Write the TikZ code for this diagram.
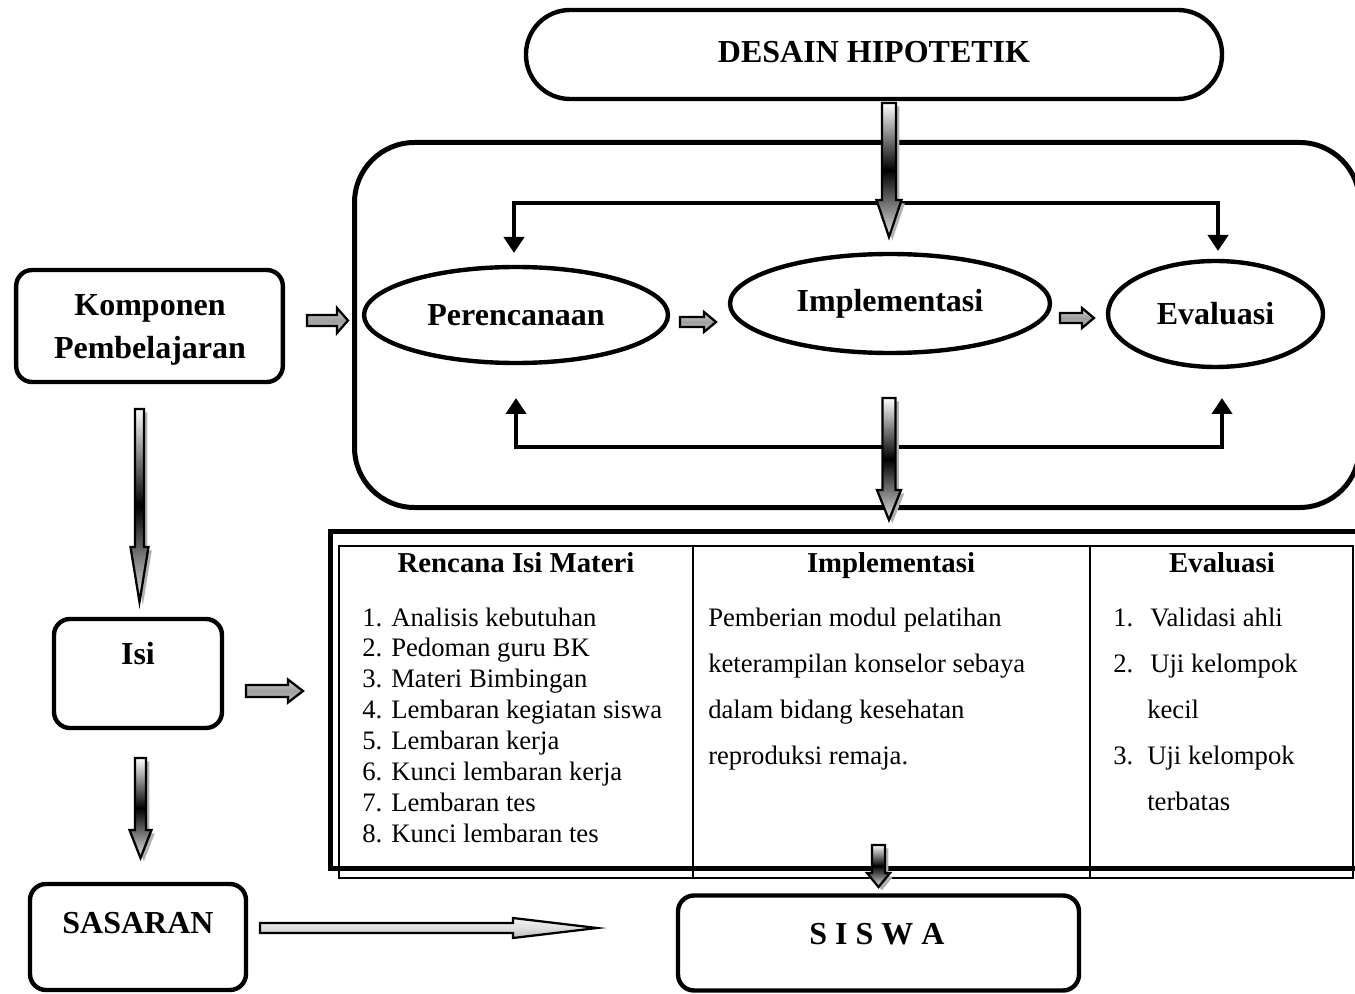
\documentclass[tikz,border=0pt]{standalone}
\usepackage{fontspec}
\setmainfont{Liberation Serif}
\usetikzlibrary{arrows.meta,shapes.geometric,calc}
\newcommand\blkV[7]{%
  \fill[gray!60,xshift=2.5pt,yshift=-2.5pt] (#2-#5,#3) -- (#2+#5,#3) -- (#2+#5,#4-#7) -- (#2+#6,#4-#7) -- (#2,#4) -- (#2-#6,#4-#7) -- (#2-#5,#4-#7) -- cycle;
  \draw[blk,#1] (#2-#5,#3) -- (#2+#5,#3) -- (#2+#5,#4-#7) -- (#2+#6,#4-#7) -- (#2,#4) -- (#2-#6,#4-#7) -- (#2-#5,#4-#7) -- cycle;}
\newcommand\blkH[7]{%
  \draw[blk,#1] (#3,#2-#5) -- (#4-#7,#2-#5) -- (#4-#7,#2-#6) -- (#4,#2) -- (#4-#7,#2+#6) -- (#4-#7,#2+#5) -- (#3,#2+#5) -- cycle;}
\begin{document}
\begin{tikzpicture}[x=0.75pt,y=-0.75pt,
  bigtxt/.style={font=\fontsize{24pt}{33pt}\selectfont\bfseries},
  hdr/.style={font=\fontsize{21.6pt}{26pt}\selectfont\bfseries},
  body/.style={font=\fontsize{20pt}{23pt}\selectfont},
  rbox/.style={draw, line width=3.3pt, rounded corners=12pt, inner sep=0pt},
  oval/.style={ellipse, draw, line width=3.3pt, inner sep=0pt, bigtxt},
  flow/.style={line width=3.7pt, line join=miter, {Triangle[length=12pt,width=15pt]}-{Triangle[length=12pt,width=15pt]}},
  blk/.style={draw, line width=1.7pt, line join=miter},
  vshade/.style={top color=white, bottom color=gray!20, middle color=black},
  hshade/.style={top color=gray!35, bottom color=gray!50, middle color=gray!75},
  lshade/.style={top color=gray!10, bottom color=gray!55, middle color=gray!25}]
\useasboundingbox (0,0) rectangle (1355,994);
\clip (0,0) rectangle (1355,994);

% containers and boxes
\node[draw, line width=3.75pt, rounded corners=45pt, minimum width=753.75pt, minimum height=273.75pt] (cyc) at (857,325) {};
\node[draw, line width=3.3pt, rounded corners=33pt, minimum width=522pt, minimum height=66.75pt, bigtxt] (desain) at (874,54.5) {};
\node[bigtxt, anchor=base] at (874,63) {DESAIN HIPOTETIK};

\node[rbox, minimum width=200pt, minimum height=84pt] (komp) at (149.5,326) {};
\node[bigtxt, anchor=base] at (150,316) {Komponen};
\node[bigtxt, anchor=base] at (150,359) {Pembelajaran};

\node[rbox, minimum width=126pt, minimum height=81.75pt] (isi) at (138,673.5) {};
\node[bigtxt, anchor=base] at (138,664) {Isi};

\node[rbox, minimum width=162pt, minimum height=79.5pt] (sas) at (138,937) {};
\node[bigtxt, anchor=base] at (138,933) {SASARAN};

\node[rbox, minimum width=300.75pt, minimum height=71.25pt] (siswa) at (878.5,943) {};
\node[bigtxt, anchor=base] at (877,944) {S I S W A};

% ellipses
\node[oval, minimum width=228pt, minimum height=72pt] (per) at (516,315) {Perencanaan};
\node[oval, minimum width=240pt, minimum height=74.25pt] (imp) at (890,303.5) {Implementasi};
\node[oval, minimum width=161.25pt, minimum height=79.5pt] (eva) at (1215.5,314) {Evaluasi};

% inner black connectors
\coordinate (tl) at (514,253); \coordinate (tlc) at (514,203);
\coordinate (trc) at (1218,203); \coordinate (tr) at (1218,251);
\draw[flow] (tl) -- (tlc) -- (trc) -- (tr);
\coordinate (bl) at (516,398); \coordinate (blc) at (516,447);
\coordinate (brc) at (1222,447); \coordinate (br) at (1222,398);
\draw[flow] (bl) -- (blc) -- (brc) -- (br);

% table
\draw[line width=3.75pt] (330,531) rectangle (1370,868);
\draw[line width=1.5pt] (339,546) rectangle (1353,878);
\draw[line width=1.5pt] (693,546) -- (693,878);
\draw[line width=1.5pt] (1090,546) -- (1090,878);

\node[hdr, anchor=base] at (516,572) {Rencana Isi Materi};
\node[hdr, anchor=base] at (891,572) {Implementasi};
\node[hdr, anchor=base] at (1222,572) {Evaluasi};

\foreach \t [count=\i] in {Analisis kebutuhan, Pedoman guru BK, Materi Bimbingan, Lembaran kegiatan siswa, Lembaran kerja, Kunci lembaran kerja, Lembaran tes, Kunci lembaran tes}{
  \node[body, anchor=base west, inner sep=0pt] at (362,{626+30.9*(\i-1)}) {\i.};
  \node[body, anchor=base west, inner sep=0pt] at (391,{626+30.9*(\i-1)}) {\t};
}
\foreach \t [count=\i] in {Pemberian modul pelatihan, keterampilan konselor sebaya, dalam bidang kesehatan, reproduksi remaja.}{
  \node[body, anchor=base west, inner sep=0pt] at (708,{626+46*(\i-1)}) {\t};
}
\node[body, anchor=base west, inner sep=0pt] at (1113,626) {1.};
\node[body, anchor=base west, inner sep=0pt] at (1150,626) {Validasi ahli};
\node[body, anchor=base west, inner sep=0pt] at (1113,672) {2.};
\node[body, anchor=base west, inner sep=0pt] at (1150,672) {Uji kelompok};
\node[body, anchor=base west, inner sep=0pt] at (1147,718) {kecil};
\node[body, anchor=base west, inner sep=0pt] at (1113,764) {3.};
\node[body, anchor=base west, inner sep=0pt] at (1147,764) {Uji kelompok};
\node[body, anchor=base west, inner sep=0pt] at (1147,810) {terbatas};

% block arrows
\blkV{vshade}{889}{103}{237}{7}{12.5}{37}
\blkV{vshade}{889}{398}{520}{6.5}{12}{30}
\blkV{vshade}{139.5}{409}{602}{4.5}{9}{55}
\blkV{vshade}{140.5}{758}{858}{5.5}{11}{28}
\blkV{vshade}{878.5}{845}{887}{6.5}{11.5}{14}
\blkH{hshade}{320.5}{307}{348}{5.5}{12.5}{11}
\blkH{hshade}{322}{680}{716}{5}{10}{12}
\blkH{hshade}{318}{1060}{1094}{5}{10}{12}
\blkH{hshade}{691}{246}{303}{6}{11.5}{15}
\blkH{lshade}{928}{260}{597}{5}{10}{84}
\end{tikzpicture}
\end{document}
